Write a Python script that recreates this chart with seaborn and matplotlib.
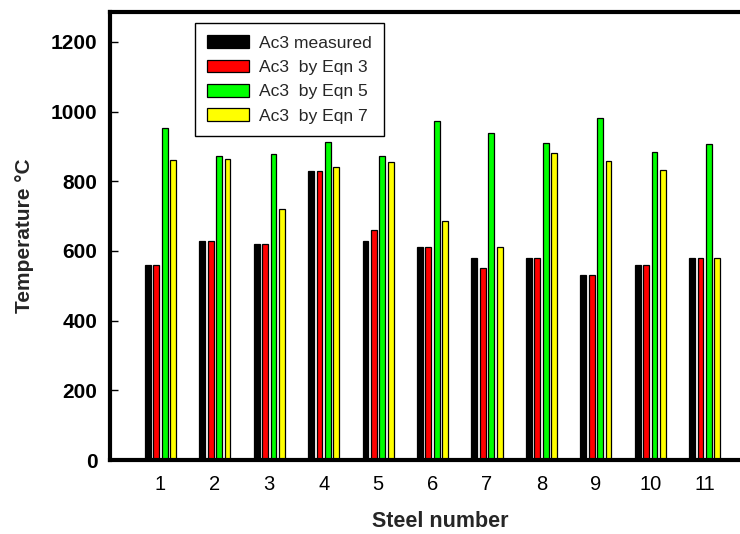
import pandas as pd
import seaborn as sns
import matplotlib.pyplot as plt
from matplotlib.patches import Patch

steels = [str(i) for i in range(1, 12)]
series = ["Ac3 measured", "Ac3  by Eqn 3", "Ac3  by Eqn 5", "Ac3  by Eqn 7"]
measured = [560, 630, 620, 830, 630, 610, 580, 580, 530, 560, 580]
eqn3 = [560, 630, 620, 830, 660, 610, 552, 580, 530, 560, 580]
eqn5 = [953, 872, 877, 912, 872, 974, 940, 911, 981, 885, 908]
eqn7 = [862, 864, 720, 840, 855, 685, 612, 882, 859, 833, 580]
colors = ["#000000", "#ff0000", "#00ff00", "#ffff00"]

# long format for seaborn
df = pd.DataFrame({
    "Steel": steels * 4,
    "Series": [s for s in series for _ in steels],
    "Value": measured + eqn3 + eqn5 + eqn7,
})

sns.set_theme(style="white")
plt.rcParams["font.family"] = ["Liberation Sans", "DejaVu Sans"]

fig = plt.figure(figsize=(7.4, 5.34), dpi=100)
ax = fig.add_axes([110 / 740, 74 / 534, 660 / 740, 448 / 534])

sns.barplot(data=df, x="Steel", y="Value", hue="Series", order=steels,
            hue_order=series, palette=colors, width=0.62, gap=0.3,
            edgecolor="black", linewidth=0.9, saturation=1, ax=ax,
            legend=False)

ax.set_xlim(-0.926, 11.2)
ax.set_ylim(0, 1286)
ax.set_yticks(range(0, 1201, 200))
ax.tick_params(axis="y", direction="in", length=6, width=1, left=True,
               labelsize=15, pad=9, colors="black")
ax.tick_params(axis="x", length=0, labelsize=14.5, pad=11, colors="black")
for lab in ax.get_yticklabels():
    lab.set_fontweight("bold")

for side in ["left", "top", "bottom", "right"]:
    ax.spines[side].set_linewidth(3)
    ax.spines[side].set_color("black")

ax.set_xlabel("Steel number", fontsize=15.5, fontweight="bold", labelpad=12)
ax.set_ylabel("Temperature °C", fontsize=15, fontweight="bold", labelpad=12)

handles = [Patch(facecolor=c, edgecolor="black", linewidth=0.9) for c in colors]
leg = fig.legend(handles, series, loc="upper left",
                 bbox_to_anchor=(195 / 740, 1 - 23 / 534), fontsize=12.6,
                 frameon=True, fancybox=False, framealpha=1,
                 handlelength=2.4, handleheight=0.75, labelspacing=0.5,
                 borderpad=0.7, handletextpad=0.55, borderaxespad=0)
leg.get_frame().set_edgecolor("black")
leg.get_frame().set_linewidth(1)

fig.savefig("out.png", dpi=100)
